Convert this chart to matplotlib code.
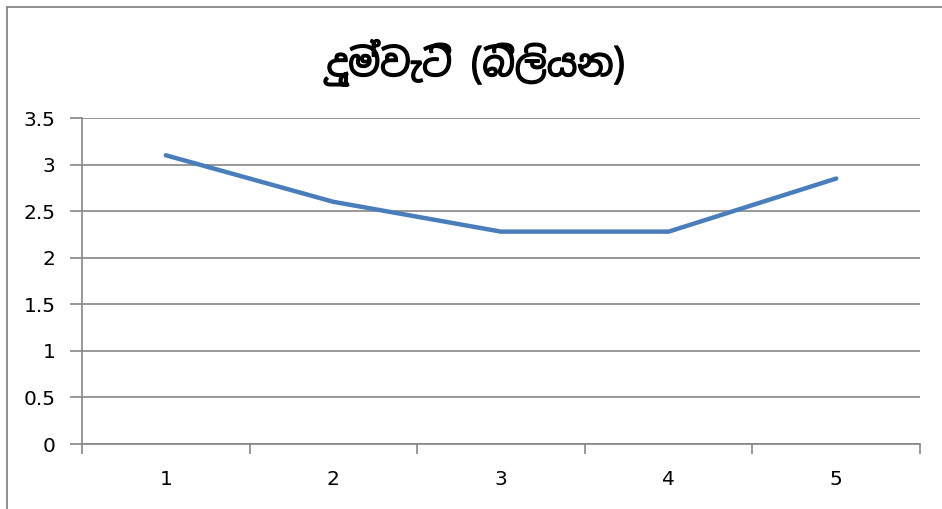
import matplotlib
matplotlib.use("Agg")
import matplotlib.pyplot as plt
import matplotlib.patheffects as pe
from matplotlib.lines import Line2D

# ----------------------------
# Chart data
# ----------------------------
title = "දුම්වැටි (බිලියන)"
categories = ["1", "2", "3", "4", "5"]
values = [3.1, 2.6, 2.28, 2.28, 2.85]
y_ticks = [0, 0.5, 1, 1.5, 2, 2.5, 3, 3.5]
y_labels = ["0", "0.5", "1", "1.5", "2", "2.5", "3", "3.5"]

W, H, DPI = 942, 509, 100
axis_grey = "#868686"

fig = plt.figure(figsize=(W / DPI, H / DPI), dpi=DPI)
ax = fig.add_axes([82 / W, 1 - 444 / H, (920 - 82) / W, (444 - 118) / H])

x = list(range(1, len(categories) + 1))
ax.plot(x, values, color="#4A7EBB", linewidth=3.2, solid_capstyle="round")

ax.set_xlim(0.5, len(categories) + 0.5)
ax.set_ylim(0, 3.5)

# gridlines at every y tick
ax.set_yticks(y_ticks)
ax.set_yticklabels(y_labels)
ax.yaxis.grid(True, color=axis_grey, linewidth=1.2)
ax.set_axisbelow(True)

# category labels centred, tick marks between categories
ax.set_xticks(x)
ax.set_xticklabels(categories)
ax.set_xticks([i + 0.5 for i in range(len(categories) + 1)], minor=True)
ax.tick_params(axis="x", which="major", length=0, pad=19)
ax.tick_params(axis="x", which="minor", length=7, width=1.2, color=axis_grey, direction="out")
ax.tick_params(axis="y", length=9, width=1.2, color=axis_grey, pad=10)
ax.tick_params(labelsize=14.5)

for side in ["top", "right"]:
    ax.spines[side].set_visible(False)
for side in ["left", "bottom"]:
    ax.spines[side].set_color(axis_grey)
    ax.spines[side].set_linewidth(1.2)

# the Sinhala font has no bold face, so thicken the strokes a little
fig.text(476 / W, 1 - 63 / H, title, ha="center", va="center",
         fontsize=27, fontweight="bold",
         family=["Noto Sans Sinhala", "Noto Sans", "DejaVu Sans"],
         path_effects=[pe.withStroke(linewidth=1.0, foreground="black")])

# chart outline (right and bottom edges fall outside the picture)
fig.add_artist(Line2D([6.5 / W, 6.5 / W], [0, 1 - 6.5 / H], color=axis_grey, linewidth=1.3,
                      transform=fig.transFigure))
fig.add_artist(Line2D([6.5 / W, 1], [1 - 6.5 / H, 1 - 6.5 / H], color=axis_grey, linewidth=1.3,
                      transform=fig.transFigure))

fig.savefig("out.png", dpi=DPI)
